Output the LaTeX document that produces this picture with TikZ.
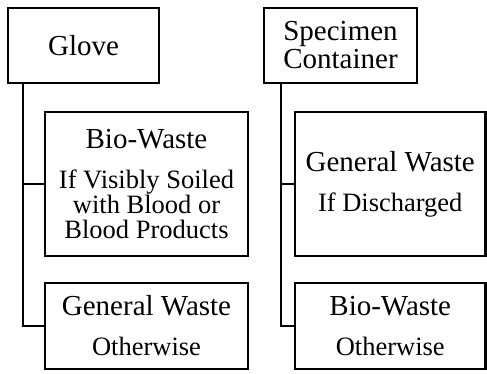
\documentclass[tikz,border=0pt]{standalone}
\usepackage{fontspec}
\setmainfont{Liberation Serif}
\newcommand{\mainf}{\fontsize{29}{28}\selectfont}
\newcommand{\subf}{\fontsize{26.5}{25}\selectfont}

\begin{document}
\begin{tikzpicture}[x=1pt,y=-1pt]

\tikzset{box/.style = {draw,line width=2.1pt,inner sep=0pt,outer sep=0pt,align=center,anchor=north west}}
\tikzset{edge/.style = {-,line width=2.1pt}}
\useasboundingbox (0,0) rectangle (487,373);

\node[box,minimum width=151pt,minimum height=75pt,font=\mainf] (glove) at (8,8) {Glove};
\node[box,minimum width=203pt,minimum height=144pt,font=\subf] (glovebio) at (45,112)
  {{\mainf Bio-Waste}\\[15pt]If Visibly Soiled\\with Blood or\\Blood Products};
\node[box,minimum width=203pt,minimum height=86pt,font=\subf] (glovegen) at (45,283)
  {{\mainf General Waste}\\[15pt]Otherwise};

\node[box,minimum width=153pt,minimum height=75pt,font=\mainf] (spec) at (264,8) {Specimen\\Container};
\node[box,minimum width=190.5pt,minimum height=144pt,font=\subf] (specgen) at (295,112)
  {{\mainf General Waste}\\[15pt]If Discharged};
\node[box,minimum width=190.5pt,minimum height=86pt,font=\subf] (specbio) at (295,283)
  {{\mainf Bio-Waste}\\[15pt]Otherwise};

%edges
\coordinate (gtrunk) at ([xshift=15pt]glove.south west);
\coordinate (strunk) at ([xshift=17pt]spec.south west);
\draw[edge] (gtrunk) |- (glovebio.west);
\draw[edge] (gtrunk) |- (glovegen.west);
\draw[edge] (strunk) |- (specgen.west);
\draw[edge] (strunk) |- (specbio.west);
\end{tikzpicture}
\end{document}
